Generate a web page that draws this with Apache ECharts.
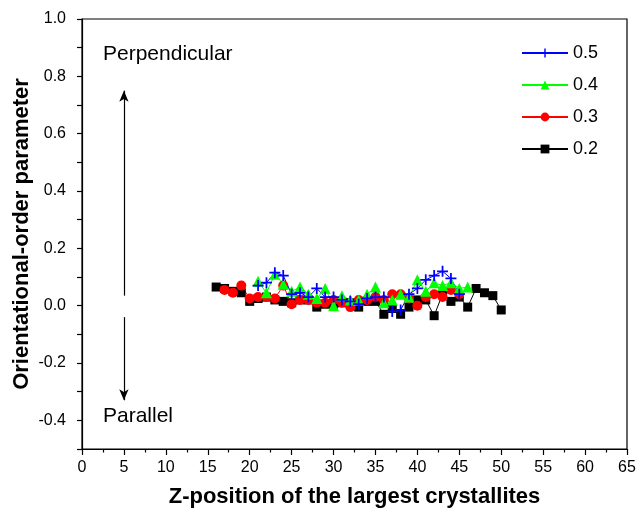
<!DOCTYPE html>
<html>
<head>
<meta charset="utf-8">
<script src="https://cdn.jsdelivr.net/npm/echarts@6/dist/echarts.min.js"></script>
<style>
html,body{margin:0;padding:0;background:#fff;}
#chart{width:636px;height:511px;}
</style>
</head>
<body>
<div id="chart"></div>
<script>
// Z positions (shared by every run)
const zBlack = [16,17,18,19,20,21,22,23,24,25,26,27,28,29,30,31,32,33,34,35,36,37,38,39,40,41,42,43,44,45,46,47,48,49,50];
const s02 = [0.065,0.06,0.05,0.045,0.015,0.025,0.03,0.02,0.015,0.01,0.02,0.02,-0.005,0.005,0.005,0.01,0.01,-0.005,0.015,0.015,-0.03,-0.01,-0.03,-0.005,0.02,0.02,-0.035,0.04,0.015,0.03,-0.005,0.06,0.045,0.035,-0.015];

const zRed = [17,18,19,20,21,22,23,24,25,26,27,28,29,30,31,32,33,34,35,36,37,38,39,40,41,42,43,44,45];
const s03 = [0.055,0.045,0.07,0.025,0.03,0.03,0.025,0.07,0.005,0.02,0.02,0.01,0.01,0.02,0.01,-0.005,0.02,0.02,0.03,0.02,0.04,0.04,0.025,0.0,0.03,0.04,0.03,0.055,0.04];

const zGreen = [21,22,23,24,25,26,27,28,29,30,31,32,33,34,35,36,37,38,39,40,41,42,43,44,45,46];
const s04 = [0.085,0.045,0.11,0.075,0.05,0.065,0.04,0.025,0.06,0.0,0.035,0.02,0.02,0.04,0.065,0.01,0.02,0.04,0.03,0.09,0.05,0.08,0.07,0.08,0.06,0.065];

const zBlue = [21,22,23,24,25,26,27,28,29,30,31,32,33,34,35,36,37,38,39,40,41,42,43,44,45];
const s05 = [0.07,0.08,0.115,0.105,0.04,0.045,0.03,0.06,0.03,0.03,0.02,0.015,0.005,0.025,0.03,0.03,-0.02,-0.015,0.04,0.06,0.09,0.105,0.12,0.095,0.04];

const seriesNames = ['0.5','0.4','0.3','0.2'];
const xTicks = {min: 0, max: 65, step: 5};
const yTicks = {min: -0.5, max: 1.0, step: 0.1};

const pair = (xs, ys) => xs.map((x, i) => [x, ys[i]]);
const plusPath = 'path://M4.2,0H5.8V10H4.2ZM0,4.2H10V5.8H0Z';
const font = '"Liberation Sans", Arial, sans-serif';

function lineSeries(name, data, color, symbol, size) {
  return {
    name: name, type: 'line', data: data,
    symbol: symbol, symbolSize: size, showAllSymbol: true,
    lineStyle: {color: color, width: 1},
    itemStyle: {color: color, borderWidth: 0},
    emphasis: {disabled: true},
    animation: false
  };
}

const chart = echarts.init(document.getElementById('chart'), null, {renderer: 'canvas'});
const arrowLine = {color: '#000', width: 1.2, type: 'solid'};

chart.setOption({
  backgroundColor: '#fff',
  animation: false,
  grid: {
    left: 82, right: 9, top: 19, bottom: 62, outerBoundsMode: 'none',
    show: true, borderColor: '#000', borderWidth: 1.2, backgroundColor: 'transparent'
  },
  legend: {
    data: seriesNames, orient: 'vertical', left: 516, top: 39,
    itemWidth: 46, itemHeight: 11, itemGap: 14,
    textStyle: {fontFamily: font, fontSize: 18, color: '#000'}
  },
  xAxis: {
    type: 'value', min: xTicks.min, max: xTicks.max, interval: xTicks.step,
    name: 'Z-position of the largest crystallites', nameLocation: 'middle', nameGap: 37,
    nameMoveOverlap: false,
    nameTextStyle: {fontFamily: font, fontSize: 22, fontWeight: 'bold', color: '#000'},
    axisLine: {onZero: false, lineStyle: {color: '#000', width: 1.2}},
    axisTick: {inside: false, length: 6, lineStyle: {color: '#000', width: 1.2}},
    minorTick: {show: true, splitNumber: 2, length: 3.5, lineStyle: {color: '#000', width: 1.2}},
    axisLabel: {fontFamily: font, fontSize: 16, color: '#000', margin: 11},
    splitLine: {show: false}
  },
  yAxis: {
    type: 'value', min: yTicks.min, max: yTicks.max, interval: yTicks.step,
    name: 'Orientational-order parameter', nameLocation: 'middle', nameGap: 49,
    nameMoveOverlap: false,
    nameTextStyle: {fontFamily: font, fontSize: 22, fontWeight: 'bold', color: '#000'},
    axisLine: {onZero: false, lineStyle: {color: '#000', width: 1.2}},
    axisTick: {inside: false, length: 5, lineStyle: {color: '#000', width: 1.2}},
    axisLabel: {
      fontFamily: font, fontSize: 16, color: '#000', margin: 16,
      formatter: v => {
        const k = Math.round(v * 10);
        return (k % 2 === 0 && k > -5) ? (k / 10).toFixed(1) : '';
      }
    },
    splitLine: {show: false}
  },
  series: [
    Object.assign(lineSeries('0.2', pair(zBlack, s02), '#000000', 'rect', 9), {
      markLine: {
        silent: true, symbol: ['none', 'arrow'], symbolSize: [7, 11],
        label: {show: false}, lineStyle: arrowLine,
        data: [
          [{coord: [5, 0.035]}, {coord: [5, 0.75]}],
          [{coord: [5, -0.04]}, {coord: [5, -0.33]}]
        ]
      }
    }),
    lineSeries('0.3', pair(zRed, s03), '#ff0000', 'circle', 10),
    lineSeries('0.4', pair(zGreen, s04), '#00ff00', 'triangle', 11),
    lineSeries('0.5', pair(zBlue, s05), '#0000ff', plusPath, 11)
  ],
  graphic: [
    {type: 'text', left: 103, top: 44, style: {text: 'Perpendicular', fontFamily: font, fontSize: 21, fill: '#000'}},
    {type: 'text', left: 103, top: 406, style: {text: 'Parallel', fontFamily: font, fontSize: 21, fill: '#000'}}
  ]
});
</script>
</body>
</html>
